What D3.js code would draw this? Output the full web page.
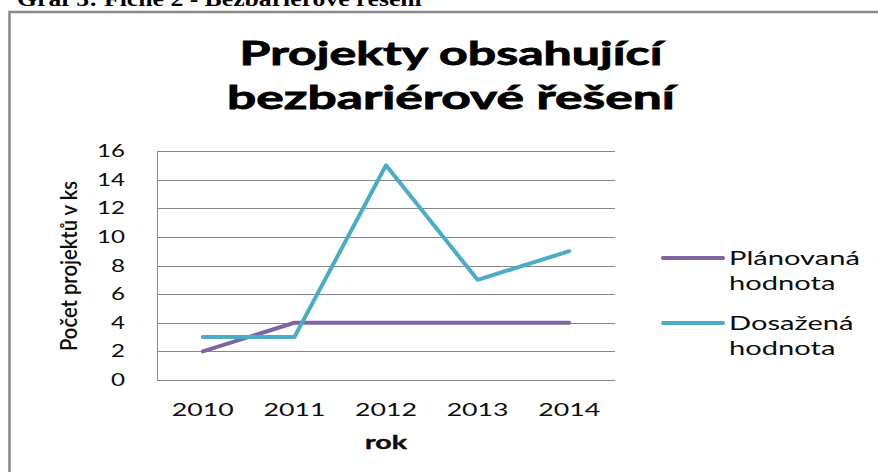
<!DOCTYPE html>
<html><head><meta charset="utf-8">
<script src="https://cdn.jsdelivr.net/npm/d3@7"></script>
<style>html,body{margin:0;padding:0;background:#fff;overflow:hidden;} svg{display:block;}</style>
</head><body>
<script>
// ---- data ----
const years = ["2010", "2011", "2012", "2013", "2014"];
const planned = [2, 4, 4, 4, 4];
const achieved = [3, 3, 15, 7, 9];
const yTicks = [0, 2, 4, 6, 8, 10, 12, 14, 16];
const seriesNames = [["Plánovaná", "hodnota"], ["Dosažená", "hodnota"]];
const seriesColors = ["#8064A2", "#4BACC6"];
const titleLines = ["Projekty obsahující", "bezbariérové řešení"];
const caption = "Graf 5: Fiche 2 - Bezbariérové řešení";
const yTitle = "Počet projektů v ks";
const xTitle = "rok";

// ---- layout ----
const W = 878, H = 472;
const FONT = "Lato, 'Open Sans', sans-serif";
const svg = d3.select("body").append("svg").attr("width", W).attr("height", H);

const plot = {left: 157, right: 615, top: 151, bottom: 380};
const x = d3.scaleBand().domain(years).range([plot.left, plot.right]);
const y = d3.scaleLinear().domain([0, 16]).range([plot.bottom, plot.top]);
const cx = d => x(d) + x.bandwidth() / 2;

function measure(str, size, weight, family) {
  const t = svg.append("text").text(str).attr("font-family", family || FONT)
    .attr("font-size", size).attr("font-weight", weight || "normal");
  const l = t.node().getComputedTextLength();
  t.remove();
  return l;
}
function sText(px, py, str, o) {
  const g = svg.append("g").attr("transform", `translate(${px},${py}) scale(${o.k},1)`);
  const t = g.append("text").text(str)
    .attr("font-family", o.family || FONT).attr("font-size", o.size)
    .attr("font-weight", o.weight || "normal")
    .attr("text-anchor", o.anchor || "start").attr("fill", o.fill || "#0d0d0d");
  if (o.stroke) t.attr("stroke", o.fill || "#0d0d0d").attr("stroke-width", o.stroke);
  return g;
}

// caption (cut off at top, as in the reference)
{
  const k = 405 / measure(caption, 20, "bold", "'Liberation Serif', serif");
  sText(17, 6, caption, {k, size: 20, weight: "bold", family: "'Liberation Serif', serif", fill: "#000"});
}

// frame
svg.append("rect").attr("x", 9.5).attr("y", 12).attr("width", W + 20).attr("height", H + 20)
  .attr("fill", "none").attr("stroke", "#888").attr("stroke-width", 2.5);

// title
const titleW = [423, 448];
const titleY = [65, 109];
titleLines.forEach((s, i) => {
  const k = titleW[i] / measure(s, 32, "bold");
  sText(451, titleY[i], s, {k, size: 32, weight: "bold", anchor: "middle", fill: "#000", stroke: 0.8});
});

// gridlines
svg.append("g").selectAll("line").data(yTicks).join("line")
  .attr("x1", plot.left).attr("x2", plot.right)
  .attr("y1", d => Math.round(y(d)) + 0.5).attr("y2", d => Math.round(y(d)) + 0.5)
  .attr("stroke", "#878787").attr("stroke-width", 1);
// left axis line
svg.append("line").attr("x1", plot.left + 0.5).attr("x2", plot.left + 0.5)
  .attr("y1", y(16)).attr("y2", y(0) + 0.5).attr("stroke", "#878787").attr("stroke-width", 1);

// y tick labels
{
  const k = 28 / measure("16", 17);
  yTicks.forEach(d => sText(125, y(d) + 6, String(d), {k, size: 17, anchor: "end"}));
}
// x tick labels
{
  const k = 62 / measure("2010", 18);
  years.forEach(d => sText(cx(d), 416, d, {k, size: 18, anchor: "middle"}));
}
// x title
{
  const k = 42 / measure(xTitle, 18, "bold");
  sText((plot.left + plot.right) / 2, 449, xTitle, {k, size: 18, weight: "bold", anchor: "middle", stroke: 0.4});
}
// y title
svg.append("text").text(yTitle)
  .attr("transform", `translate(77,266) scale(1.3,1) rotate(-90)`)
  .attr("font-family", FONT).attr("font-size", 18).attr("font-weight", 600)
  .attr("text-anchor", "middle").attr("fill", "#0d0d0d")
  .attr("textLength", 170).attr("lengthAdjust", "spacingAndGlyphs");

// lines
const line = d3.line().x((d, i) => cx(years[i])).y(d => y(d));
[planned, achieved].forEach((vals, i) => {
  svg.append("path").datum(vals).attr("d", line)
    .attr("fill", "none").attr("stroke", seriesColors[i]).attr("stroke-width", 4)
    .attr("stroke-linejoin", "round").attr("stroke-linecap", "round");
});

// legend
{
  const k = 131 / measure(seriesNames[0][0], 19);
  const ly = [258, 323];
  seriesNames.forEach((nm, i) => {
    svg.append("line").attr("x1", 663).attr("x2", 723).attr("y1", ly[i]).attr("y2", ly[i])
      .attr("stroke", seriesColors[i]).attr("stroke-width", 4).attr("stroke-linecap", "round");
    sText(729, ly[i] + 7, nm[0], {k, size: 19});
    sText(729, ly[i] + 32, nm[1], {k, size: 19});
  });
}
</script>
</body></html>
